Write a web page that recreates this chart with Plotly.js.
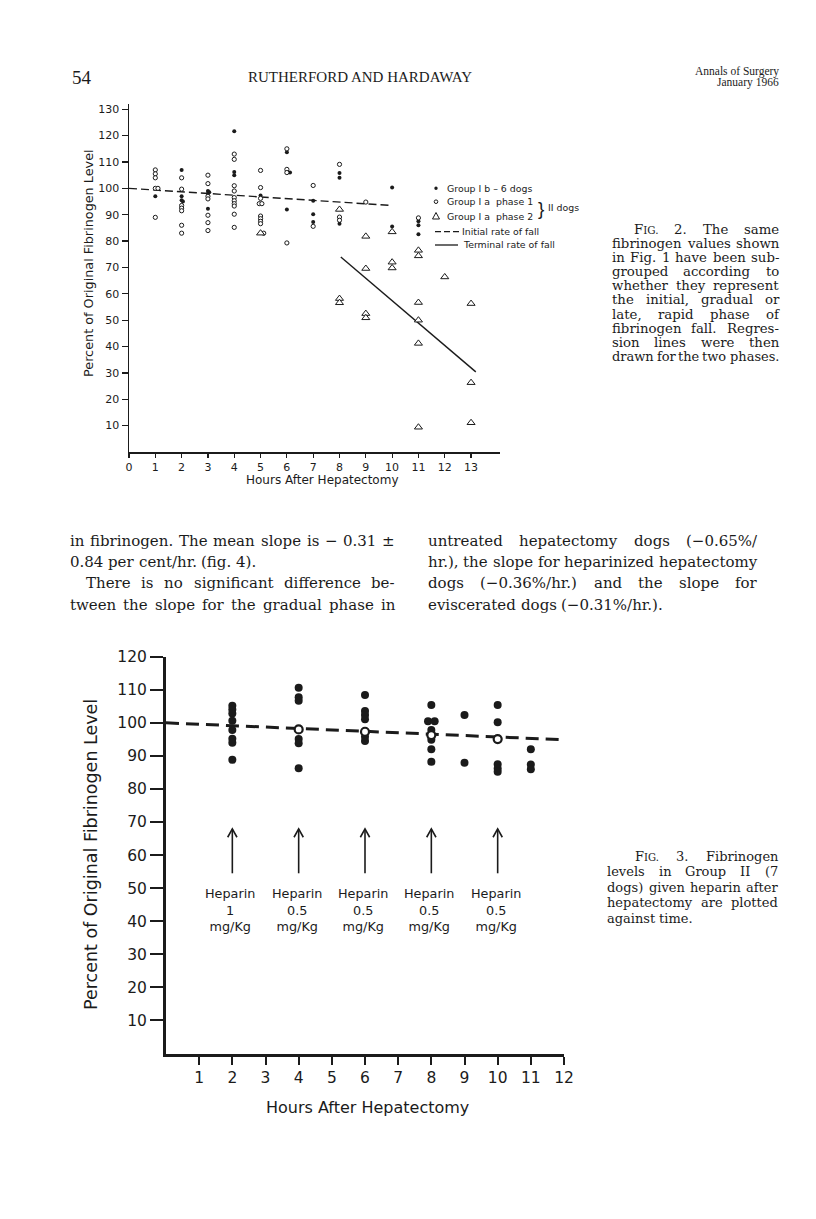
<!DOCTYPE html>
<html><head><meta charset="utf-8">
<script src="https://cdn.plot.ly/plotly-3.0.1.min.js"></script>
<style>html,body{margin:0;padding:0;background:#fff;}#page{width:816px;height:1219px;}</style>
</head><body><div id="page"></div>
<script>
// ================= Fig. 2 data =================
const fig2XTicks = [0,1,2,3,4,5,6,7,8,9,10,11,12,13];
const fig2YTicks = [10,20,30,40,50,60,70,80,90,100,110,120,130];
// Group Ib - 6 dogs (filled dots)
const fig2IbHours  = [1, 2,2,2,2.05, 3,3.05,3,3, 4,4,4, 5, 6,6.12,6, 7,7,7, 8,8,8, 10,10, 11,11,11];
const fig2IbValues = [97, 107,97,95.5,95, 99,98.5,98,92.3, 121.7,106.2,105, 97.3, 113.7,106,92, 95.3,90.2,87.2, 105.8,104,86.6, 100.3,85.5, 87.5,86,82.6];
// Group Ia phase 1 (open circles)
const fig2P1Hours  = [1,1,1,1,1.1,1, 2,2,2,2,2,2,2, 3,3,3,3,3,3,3, 4,4,4,4,4,4,4,4,4,4, 5,5,5,4.95,5.05,5,5,5,5,5.12, 6,6,6,6, 7,7, 8,8,8, 9, 11];
const fig2P1Values = [107,105.5,104,100,100,89, 104,99.7,93.5,92.5,91.5,86,83, 105,101.8,97,96,89.8,87,84, 113,111,101,99,96.5,95.3,94.2,93.3,90.2,85.2, 106.8,100.3,96.2,94.2,94.2,89.5,88.5,87.5,86.6,83, 115,107.2,106,79.3, 101.1,85.6, 109.1,89.1,87.9, 94.8, 88.8];
// Group Ia phase 2 (triangles)
const fig2P2Hours  = [5, 8,8,8, 9,9,9,9, 10,10,10, 11,11,11,11,11,11, 12, 13,13,13];
const fig2P2Values = [83, 92,58.2,56.6, 81.8,69.6,52.5,50.9, 83.5,72,69.8, 76.5,74.4,56.7,50,41.2,9.4, 66.4, 56.3,26.3,11.1];
// regression lines
const fig2InitialHours = [0, 10];
const fig2InitialValues = [100, 93.5];
const fig2TerminalHours = [8.05, 13.18];
const fig2TerminalValues = [74, 30.4];

// ================= Fig. 3 data =================
const fig3XTicks = [1,2,3,4,5,6,7,8,9,10,11,12];
const fig3YTicks = [10,20,30,40,50,60,70,80,90,100,110,120];
const fig3Hours  = [2,2,2,2,2,2,2,2, 4,4,4,4,4,4, 6,6,6,6,6,6, 8,7.9,8.1,8,8,8,8, 9,9, 10,10,10,10,10, 11,11,11];
const fig3Values = [105.2,104,102.8,100.6,97.8,95.2,94,88.8, 110.6,107.7,106.7,95.1,93.8,86.3, 108.4,103.6,102.4,101.1,95.8,94.5, 105.4,100.5,100.5,97.8,94.9,92,88.2, 102.4,87.9, 105.4,100.2,87.5,86.2,85.2, 92,87.4,86];
const fig3OpenHours  = [4, 6, 8, 10];
const fig3OpenValues = [98, 97.3, 96.3, 95.1];
const fig3LineHours  = [0, 12.65];
const fig3LineValues = [100, 94.6];
const heparinHours = [2, 4, 6, 8, 10];
const heparinDoses = ['1', '0.5', '0.5', '0.5', '0.5'];

// ================= page geometry helpers =================
const W = 816, H = 1219;
const TXT = '#1b1b1b';
const SANS = 'DejaVu Sans';
const SERIF = 'DejaVu Serif';
const px = x => x / W;
const py = y => 1 - y / H;

const ctx = document.createElement('canvas').getContext('2d');
function measure(t, size, fam) { ctx.font = size + 'px "' + fam + '"'; return ctx.measureText(t).width; }

const annotations = [];
const shapes = [];

function wordInfo(w, size, fam) {
  if (w === 'FIG.') {
    const s2 = +(size * 0.78).toFixed(1);
    return { html: 'F<span style="font-size:' + s2 + 'px">IG.</span>', width: measure('F', size, fam) + measure('IG.', s2, fam) };
  }
  return { html: w, width: measure(w, size, fam) };
}

function textLine(str, x0, x1, y, size, fam, justify) {
  const words = str.split(' ').filter(s => s.length);
  let sz = size;
  let infos = words.map(w => wordInfo(w, sz, fam));
  let sum = infos.reduce((a, b) => a + b.width, 0);
  const minGap = measure(' ', sz, fam) * 0.7;
  if (justify && sum + minGap * (words.length - 1) > x1 - x0) {
    sz = sz * (x1 - x0) / (sum + minGap * (words.length - 1));
    infos = words.map(w => wordInfo(w, sz, fam));
    sum = infos.reduce((a, b) => a + b.width, 0);
  }
  const gap = (justify && words.length > 1) ? (x1 - x0 - sum) / (words.length - 1) : measure(' ', sz, fam);
  let x = x0;
  infos.forEach(inf => {
    annotations.push({ text: inf.html, x: px(x), y: py(y), xref: 'paper', yref: 'paper', xanchor: 'left', yanchor: 'middle',
      showarrow: false, borderpad: 0, borderwidth: 0, font: { size: sz, family: fam, color: TXT } });
    x += inf.width + gap;
  });
}

function label(text, x, y, size, fam, xanchor, extra) {
  annotations.push(Object.assign({ text, x: px(x), y: py(y), xref: 'paper', yref: 'paper', xanchor: xanchor || 'center', yanchor: 'middle',
    showarrow: false, borderpad: 0, borderwidth: 0, font: { size, family: fam, color: TXT } }, extra || {}));
}

// ----- page header -----
label('54', 72, 77, 19, 'Liberation Serif', 'left');
label('RUTHERFORD AND HARDAWAY', 360, 77, 15, 'Liberation Serif', 'center');
label('Annals of Surgery', 779, 71, 11.5, 'Liberation Serif', 'right');
label('January 1966', 779, 83, 11.5, 'Liberation Serif', 'right');

// ----- Fig. 2 caption -----
const cap2 = [
  ['FIG.  2.  The  same', 634, true],
  ['fibrinogen values shown', 612, true],
  ['in Fig. 1 have been sub-', 612, true],
  ['grouped according to', 612, true],
  ['whether they represent', 612, true],
  ['the initial, gradual or', 612, true],
  ['late, rapid phase of', 612, true],
  ['fibrinogen fall. Regres-', 612, true],
  ['sion lines were then', 612, true],
  ['drawn for the two phases.', 612, true]
];
cap2.forEach((l, i) => textLine(l[0], l[1], 779, 229.5 + i * 14.1, 13.3, SERIF, l[2]));

// ----- body text -----
const bodyL = [
  ['in fibrinogen. The mean slope is − 0.31 ±', 70, true],
  ['0.84 per cent/hr. (fig. 4).', 70, false],
  ['There is no significant difference be-', 86, true],
  ['tween the slope for the gradual phase in', 70, true]
];
bodyL.forEach((l, i) => textLine(l[0], l[1], 395, 541 + i * 21.2, 15, SERIF, l[2]));
const bodyR = [
  ['untreated hepatectomy dogs (−0.65%/', 428, true],
  ['hr.), the slope for heparinized hepatectomy', 428, true],
  ['dogs (−0.36%/hr.) and the slope for', 428, true],
  ['eviscerated dogs (−0.31%/hr.).', 428, false]
];
bodyR.forEach((l, i) => textLine(l[0], l[1], 757, 541 + i * 21.2, 15, SERIF, l[2]));

// ----- Fig. 3 caption -----
const cap3 = [
  ['FIG.  3.  Fibrinogen', 635, true],
  ['levels in Group II (7', 607, true],
  ['dogs) given heparin after', 607, true],
  ['hepatectomy are plotted', 607, true],
  ['against time.', 607, false]
];
cap3.forEach((l, i) => textLine(l[0], l[1], 778, 856 + i * 15.5, 13, SERIF, l[2]));

// ----- Fig. 2 axis titles & legend -----
label('Percent of Original Fibrinogen Level', 88, 263, 12.8, SANS, 'center', { textangle: -90 });
label('Hours After Hepatectomy', 322, 480, 12, SANS, 'center');

const LF = 9.4;
// legend symbols
shapes.push({ type: 'circle', xref: 'paper', yref: 'paper', x0: px(434.3), x1: px(437.7), y0: py(190), y1: py(186.6), fillcolor: TXT, line: { width: 0 } });
shapes.push({ type: 'circle', xref: 'paper', yref: 'paper', x0: px(434.2), x1: px(437.8), y0: py(203.5), y1: py(199.9), fillcolor: '#fff', line: { width: 1, color: TXT } });
shapes.push({ type: 'path', xref: 'paper', yref: 'paper', path: 'M' + px(432.5) + ',' + py(219) + ' L' + px(439.5) + ',' + py(219) + ' L' + px(436) + ',' + py(212.5) + ' Z', fillcolor: '#fff', line: { width: 1, color: TXT } });
shapes.push({ type: 'line', xref: 'paper', yref: 'paper', x0: px(435), x1: px(460), y0: py(231.7), y1: py(231.7), line: { width: 1.3, color: TXT, dash: '6px,3px' } });
shapes.push({ type: 'line', xref: 'paper', yref: 'paper', x0: px(435), x1: px(458), y0: py(245), y1: py(245), line: { width: 1.3, color: TXT } });
label('Group I b – 6 dogs', 447, 188.3, LF, SANS, 'left');
label('Group I a  phase 1', 447, 201.7, LF, SANS, 'left');
label('Group I a  phase 2', 447, 216, LF, SANS, 'left');
label('}', 541, 208.5, 19, 'Liberation Sans', 'center');
label('II dogs', 548, 207.5, LF, SANS, 'left');
label('Initial rate of fall', 462, 231.7, LF, SANS, 'left');
label('Terminal rate of fall', 463, 245, LF, SANS, 'left');

// ----- Fig. 3 axis titles, arrows, heparin labels -----
label('Percent of Original Fibrinogen Level', 91, 855, 17.5, SANS, 'center', { textangle: -90 });
label('Hours After Hepatectomy', 367, 1107, 16, SANS, 'center');

heparinHours.forEach((h, i) => {
  shapes.push({ type: 'line', xref: 'x2', yref: 'y2', x0: h, x1: h, y0: 54.5, y1: 67.8, line: { width: 1.6, color: TXT } });
  shapes.push({ type: 'path', xref: 'x2', yref: 'y2', path: 'M' + (h - 0.14) + ',65.4 L' + h + ',67.9 L' + (h + 0.14) + ',65.4', line: { width: 1.6, color: TXT } });
  annotations.push({ xref: 'x2', yref: 'y2', x: h - 0.06, y: 43.4, text: 'Heparin<br>' + heparinDoses[i] + '<br>mg/Kg', showarrow: false,
    xanchor: 'center', yanchor: 'middle', borderpad: 0, font: { size: 12.8, family: SANS, color: TXT } });
});

// ================= traces =================
const traces = [
  { x: fig2InitialHours, y: fig2InitialValues, xaxis: 'x', yaxis: 'y', mode: 'lines', line: { color: TXT, width: 1.4, dash: '8px,4px' }, hoverinfo: 'skip' },
  { x: fig2TerminalHours, y: fig2TerminalValues, xaxis: 'x', yaxis: 'y', mode: 'lines', line: { color: TXT, width: 1.4 }, hoverinfo: 'skip' },
  { x: fig2IbHours, y: fig2IbValues, xaxis: 'x', yaxis: 'y', mode: 'markers', marker: { symbol: 'circle', size: 4, color: TXT } },
  { x: fig2P1Hours, y: fig2P1Values, xaxis: 'x', yaxis: 'y', mode: 'markers', marker: { symbol: 'circle', size: 4.2, color: '#fff', line: { color: TXT, width: 1 } } },
  { x: fig2P2Hours, y: fig2P2Values, xaxis: 'x', yaxis: 'y', mode: 'markers', marker: { symbol: 'triangle-up', size: 7, color: '#fff', line: { color: TXT, width: 1 } } },

  { x: fig3LineHours, y: fig3LineValues, xaxis: 'x2', yaxis: 'y2', mode: 'lines', line: { color: TXT, width: 3, dash: '13px,7px' }, hoverinfo: 'skip' },
  { x: fig3Hours, y: fig3Values, xaxis: 'x2', yaxis: 'y2', mode: 'markers', marker: { symbol: 'circle', size: 8, color: TXT } },
  { x: fig3OpenHours, y: fig3OpenValues, xaxis: 'x2', yaxis: 'y2', mode: 'markers', marker: { symbol: 'circle', size: 8, color: '#fff', line: { color: TXT, width: 2.2 } } }
];

const axBase = { showgrid: false, zeroline: false, showline: true, linecolor: TXT, ticks: 'outside', tickcolor: TXT, fixedrange: true, tickmode: 'array' };

const layout = {
  width: W, height: H, margin: { l: 0, r: 0, t: 0, b: 0 }, paper_bgcolor: '#fff', plot_bgcolor: 'rgba(0,0,0,0)',
  showlegend: false, font: { family: SANS, color: TXT },
  xaxis: Object.assign({}, axBase, { domain: [px(129), px(500)], range: [0, 14.1], anchor: 'y', tickvals: fig2XTicks, ticktext: fig2XTicks.map(String),
    linewidth: 1.5, ticklen: 4, tickwidth: 1.2, tickfont: { size: 11, family: SANS, color: TXT } }),
  yaxis: Object.assign({}, axBase, { domain: [py(452), py(104)], range: [0, 132], anchor: 'x', tickvals: fig2YTicks, ticktext: fig2YTicks.map(String),
    linewidth: 1.5, ticklen: 6, tickwidth: 1.2, tickfont: { size: 11, family: SANS, color: TXT } }),
  xaxis2: Object.assign({}, axBase, { domain: [px(166), px(564)], range: [0, 12], anchor: 'y2', tickvals: fig3XTicks, ticktext: fig3XTicks.map(String),
    linewidth: 3, ticklen: 8, tickwidth: 2, tickfont: { size: 15.5, family: SANS, color: TXT } }),
  yaxis2: Object.assign({}, axBase, { domain: [py(1053.5), py(656.7)], range: [0, 120], anchor: 'x2', tickvals: fig3YTicks, ticktext: fig3YTicks.map(String),
    linewidth: 3, ticklen: 13, tickwidth: 2, tickfont: { size: 15.5, family: SANS, color: TXT } }),
  annotations, shapes
};

Plotly.newPlot('page', traces, layout, { staticPlot: true, displayModeBar: false });
</script></body></html>
